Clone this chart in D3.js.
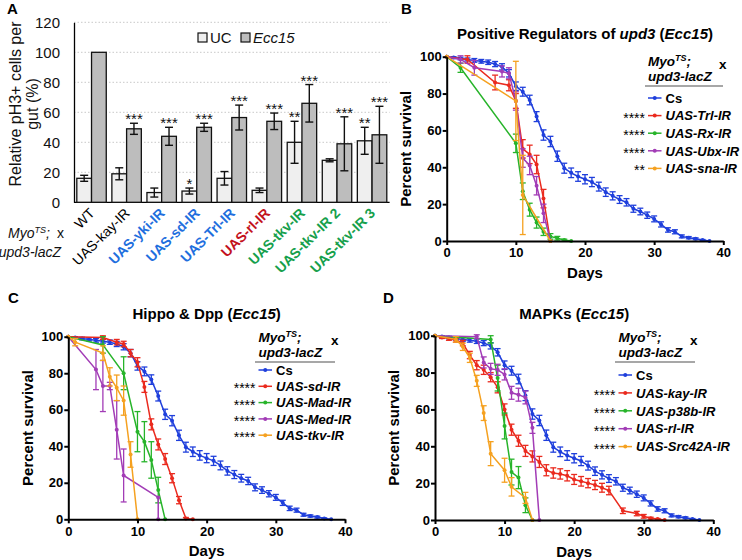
<!DOCTYPE html>
<html><head><meta charset="utf-8">
<script src="https://cdn.jsdelivr.net/npm/d3@7"></script>
<style>body{margin:0;background:#fff}svg{display:block}</style>
</head><body>
<svg id="chart" width="742" height="560"></svg>
<script>
// ================= DATA =================
// Panel A
const groupsA   = ["WT","UAS-kay-IR","UAS-yki-IR","UAS-sd-IR","UAS-Trl-IR","UAS-rl-IR","UAS-tkv-IR","UAS-tkv-IR 2","UAS-tkv-IR 3"];
const seriesA   = ["UC","Ecc15"];
const ucValues  = [16, 19, 6.5, 7.5, 16, 8, 40, 28, 41];
const ucErrors  = [2, 4, 3, 2, 4.5, 1.5, 14, 1, 9];
const eccValues = [100, 49, 44, 50, 56.5, 54, 66, 39, 45];
const eccErrors = [0, 3.7, 6, 2.7, 8.3, 5.5, 12.5, 18, 19];
const ucStars   = ["", "", "", "*", "", "", "**", "", "**"];
const eccStars  = ["", "***", "***", "***", "***", "***", "***", "***", "***"];
const yTicksA   = [0, 20, 40, 60, 80, 100, 120];

// Survival panels (shared ticks)
const dayTicks     = [0, 10, 20, 30, 40];
const percentTicks = [0, 20, 40, 60, 80, 100];

// Control Cs (same curve in B, C, D)
const csDays   = [0,1,2,3,4,5,6,7,8,9,10,11,12,13,14,15,16,17,18,19,20,21,22,23,24,25,26,27,28,29,30,31,32,33,34,35,36,37,38];
const csValues = [100,99.5,99,98.5,98,97.5,97,96,94.5,91,84,81,76.5,67.5,57.5,54,46,39.5,37,35,33.5,32,29.5,26.5,24.5,22.5,21,17.5,16,14,12,9,6,5,2.5,1.8,1.2,0.5,0];
const csErrors = [0,0.5,0.7,0.8,1,1,1.2,1.4,1.7,2,2.3,2.4,2.6,2.7,2.8,2.8,2.8,2.7,2.6,2.6,2.5,2.5,2.4,2.3,2.2,2.1,2,1.9,1.8,1.7,1.6,1.4,1.2,1.1,0.8,0.6,0.5,0.3,0];

// Panel B
const trlDays = [0,3,7,9,10,11,12,13,14,15];
const trlValues = [100,98.5,86,84.5,76,50,47,41.5,23,0];
const trlErrors = [0,2,4,3,4,5,5,5,5,0];
const rxDays = [0,2,10,11,12,13,14,15,16,17,18];
const rxValues = [100,94,53,27,17,10,5,2.5,1.5,0.5,0];
const rxErrors = [0,2.5,5,4.5,3.5,3,2,1.5,1,0.5,0];
const ubxDays = [0,2,4,8,9,10,11,12,13,14,15];
const ubxValues = [100,98.5,94,92,91,76,45,41,30,15,0];
const ubxErrors = [0,2,4,3,3,5,5,5,5,5,0];
const snaDays = [0,10,11,15];
const snaValues = [100,76,25,0];
const snaErrors = [0,21.5,21.5,0];
const labelsB = ["Cs","UAS-Trl-IR","UAS-Rx-IR","UAS-Ubx-IR","UAS-sna-IR"];
const starsB  = ["","****","****","****","**"];

// Panel C
const sdDays = [0,5,7,8,9,10,11,12,13,14,15,16,17,18];
const sdValues = [100,99.5,97,96,91,86,72.5,52,41,33,22.5,10.5,0.5,0];
const sdErrors = [0,1,1.5,1.5,2,2.5,3,3,3,3,2.5,2,0.5,0];
const madDays = [0,5,8,10,11,12,13,14];
const madValues = [100,95.5,80,48,42.5,32.5,16,0];
const madErrors = [0,4.5,9,11,11,10,7,0];
const medDays = [0,4,5,6,7,8,13,13];
const medValues = [100,82,73,73,49,24,12,0];
const medErrors = [0,11,14,2,16,14.5,0,0];
const tkvDays = [0,1,5,6,7,8,9,10];
const tkvValues = [100,97,91,78,72,65,35.5,0];
const tkvErrors = [0,2,4,5,7,8,7,0];
const labelsC = ["Cs","UAS-sd-IR","UAS-Mad-IR","UAS-Med-IR","UAS-tkv-IR"];
const starsC  = ["","****","****","****","****"];

// Panel D
const kayDays = [0,1,2,3,4,5,6,7,8,9,10,11,12,13,14,15,16,17,18,19,20,21,22,23,24,25,27,29,30,31,32,33];
const kayValues = [100,99,98.5,97.5,96,89.5,84,81.5,77.5,72,60,49,43,37.5,34.5,31.5,27,25.5,25,24,22,21,20,19,17.5,16,5,3.5,2,1,0.5,0];
const kayErrors = [0,0.5,1,1,1.5,2,2.5,2.5,2.5,3,3,3,3,3,3,3,3,2.8,2.8,2.8,2.7,2.6,2.5,2.5,2.4,2.3,1.5,1.2,1,0.5,0.3,0];
const p38bDays = [0,8,9,10,11,12,13,14];
const p38bValues = [100,98,77,51,26,23,8,0];
const p38bErrors = [0,2,7,7,7,6,4,0];
const rlDays = [0,6,7,8,9,10,11,12,13,14,15];
const rlValues = [100,99.5,85.5,82,81.5,79,69,68,66.5,50,0];
const rlErrors = [0,1,3,3,3,3,3.5,3.5,3.5,3,0];
const srcDays = [0,3,4,5,6,7,8,10,11,13,14];
const srcValues = [100,98,94,88,75.5,58,36,27,18,12,0];
const srcErrors = [0,1.5,2,2.5,3,4,6.5,6.5,5,3,0];
const labelsD = ["Cs","UAS-kay-IR","UAS-p38b-IR","UAS-rl-IR","UAS-Src42A-IR"];
const starsD  = ["","****","****","****","****"];

// ================= STYLE =================
const FONT = "'Liberation Sans', Arial, Helvetica, sans-serif";
const C_BLUE = "#1f3fdc", C_RED = "#ea2a1e", C_GREEN = "#27b42a", C_PURPLE = "#a23cb6", C_ORANGE = "#f5a120";
const labelColorA = {"WT":"#000","UAS-kay-IR":"#000","UAS-yki-IR":"#1f6fde","UAS-sd-IR":"#1f6fde","UAS-Trl-IR":"#1f6fde",
  "UAS-rl-IR":"#c3121d","UAS-tkv-IR":"#16a04c","UAS-tkv-IR 2":"#16a04c","UAS-tkv-IR 3":"#16a04c"};
const fillA = {"UC":"#efefef","Ecc15":"#bdbdbd"};

const svg = d3.select("#chart").style("font-family", FONT);

// ================= PANEL A =================
(function(){
  const g = svg.append("g");
  const yA = d3.scaleLinear().domain([0,120]).range([202.3, 22.3]);
  const xA = d3.scaleBand().domain(groupsA).range([74, 389.6]).paddingInner(0.16).paddingOuter(0.08);
  const xA1 = d3.scaleBand().domain(seriesA).range([0, xA.bandwidth()]);
  const xEnd = 389.6;

  g.selectAll(".grid").data(yTicksA.filter(t=>t>0)).join("line")
    .attr("x1",74).attr("x2",xEnd).attr("y1",d=>yA(d)).attr("y2",d=>yA(d))
    .attr("stroke","#c8c8c8").attr("stroke-width",1).attr("stroke-dasharray","1.5,2");

  const ax = g.append("g").attr("transform","translate(74,0)")
    .call(d3.axisLeft(yA).tickValues(yTicksA).tickSize(0).tickSizeOuter(0).tickPadding(14));
  ax.select(".domain").attr("stroke","#000").attr("stroke-width",1.3);
  ax.selectAll("text").attr("font-size",15).attr("font-family",FONT).attr("fill","#111");

  g.append("line").attr("x1",74).attr("x2",xEnd).attr("y1",yA(0)).attr("y2",yA(0))
    .attr("stroke","#000").attr("stroke-width",1.3);

  const bars = [];
  groupsA.forEach((grp,i)=>{
    bars.push({g:grp, s:"UC", v:ucValues[i], e:ucErrors[i], star:ucStars[i]});
    bars.push({g:grp, s:"Ecc15", v:eccValues[i], e:eccErrors[i], star:eccStars[i]});
  });
  const bx = d=>xA(d.g)+xA1(d.s);
  const bw = xA1.bandwidth();
  g.selectAll(".bar").data(bars).join("rect")
    .attr("x",bx).attr("width",bw).attr("y",d=>yA(d.v)).attr("height",d=>yA(0)-yA(d.v))
    .attr("fill",d=>fillA[d.s]).attr("stroke","#111").attr("stroke-width",1.3);
  const eb = bars.filter(d=>d.e>0);
  const ebg = g.append("g").attr("stroke","#111").attr("stroke-width",1.4);
  eb.forEach(d=>{
    const cx = bx(d)+bw/2;
    ebg.append("line").attr("x1",cx).attr("x2",cx).attr("y1",yA(d.v-d.e)).attr("y2",yA(d.v+d.e));
    ebg.append("line").attr("x1",cx-4).attr("x2",cx+4).attr("y1",yA(d.v-d.e)).attr("y2",yA(d.v-d.e));
    ebg.append("line").attr("x1",cx-4).attr("x2",cx+4).attr("y1",yA(d.v+d.e)).attr("y2",yA(d.v+d.e));
  });
  g.selectAll(".star").data(bars.filter(d=>d.star)).join("text")
    .attr("x",d=>bx(d)+bw/2).attr("y",d=>yA(d.v+d.e)+1)
    .attr("text-anchor","middle").attr("font-size",15).attr("fill","#111").text(d=>d.star);

  // legend
  const lg = g.append("g");
  [["UC",198],["Ecc15",241]].forEach(([s,x])=>{
    lg.append("rect").attr("x",x).attr("y",33).attr("width",9).attr("height",9)
      .attr("fill",fillA[s]).attr("stroke","#111").attr("stroke-width",1.2);
    lg.append("text").attr("x",x+12).attr("y",42.7).attr("font-size",15)
      .attr("font-style",s==="UC"?"normal":"italic").attr("fill","#111").text(s);
  });

  // y title
  const yt = g.append("text").attr("transform","translate(15,104) rotate(-90)")
    .attr("text-anchor","middle").attr("font-size",16).attr("fill","#111");
  yt.append("tspan").attr("x",0).attr("dy","0.35em").text("Relative pH3+ cells per");
  yt.append("tspan").attr("x",0).attr("dy","1.1em").text("gut (%)");

  // x labels
  g.selectAll(".xl").data(groupsA).join("text")
    .attr("transform",d=>`translate(${xA(d)+xA.bandwidth()/2+4},214) rotate(-45)`)
    .attr("text-anchor","end").attr("font-size",14)
    .attr("font-weight",d=>labelColorA[d]==="#000"?"normal":"bold")
    .attr("fill",d=>labelColorA[d]).text(d=>d);

  // genotype prefix
  const m = g.append("text").attr("x",8).attr("y",238).attr("font-size",14).attr("font-style","italic").attr("fill","#111");
  m.append("tspan").text("Myo");
  m.append("tspan").attr("font-size",9).attr("dy",-5).text("TS");
  m.append("tspan").attr("dy",5).text(";");
  g.append("text").attr("x",57).attr("y",238).attr("font-size",14).attr("fill","#111").text("x");
  g.append("text").attr("x",61).attr("y",257).attr("text-anchor","end").attr("font-size",14)
    .attr("font-style","italic").attr("fill","#111").text("upd3-lacZ");

  svg.append("text").attr("x",7).attr("y",14).attr("font-size",15).attr("font-weight","bold").text("A");
})();

// ================= SURVIVAL PANELS =================
function survivalPanel(cfg){
  const g = svg.append("g");
  const x = d3.scaleLinear().domain([0,40]).range(cfg.xRange);
  const y = d3.scaleLinear().domain([0,100]).range(cfg.yRange);
  const x0 = x(0), y0 = y(0);

  // series
  cfg.series.forEach(s=>{
    const pts = s.days.map((d,i)=>({day:d, v:s.values[i], e:s.errors[i]}));
    g.append("path").datum(pts).attr("d",d3.line().x(d=>x(d.day)).y(d=>y(d.v)))
      .attr("fill","none").attr("stroke",s.color).attr("stroke-width",1.5);
    const eg = g.append("g").attr("stroke",s.color).attr("stroke-width",1.3);
    pts.filter(p=>p.e>0).forEach(p=>{
      const cx = x(p.day), ya = y(p.v-p.e), yb = y(p.v+p.e);
      eg.append("line").attr("x1",cx).attr("x2",cx).attr("y1",ya).attr("y2",yb);
      eg.append("line").attr("x1",cx-3).attr("x2",cx+3).attr("y1",ya).attr("y2",ya);
      eg.append("line").attr("x1",cx-3).attr("x2",cx+3).attr("y1",yb).attr("y2",yb);
    });
    g.append("g").selectAll("circle").data(pts).join("circle")
      .attr("cx",d=>x(d.day)).attr("cy",d=>y(d.v)).attr("r",2).attr("fill",s.color);
  });

  // axes
  const xa = g.append("g").attr("transform",`translate(0,${y0})`)
    .call(d3.axisBottom(x).tickValues(dayTicks).tickSize(4).tickSizeOuter(0).tickPadding(3));
  const ya = g.append("g").attr("transform",`translate(${x0},0)`)
    .call(d3.axisLeft(y).tickValues(percentTicks).tickSize(4).tickSizeOuter(0).tickPadding(1));
  [xa,ya].forEach(a=>{
    a.select(".domain").attr("stroke","#000").attr("stroke-width",2);
    a.selectAll(".tick line").attr("stroke","#000").attr("stroke-width",2);
    a.selectAll("text").attr("font-size",13).attr("font-weight","bold").attr("font-family",FONT).attr("fill","#000");
  });

  const xc = (cfg.xRange[0]+cfg.xRange[1])/2, yc = (cfg.yRange[0]+cfg.yRange[1])/2;
  g.append("text").attr("x",xc).attr("y",y0+36.5).attr("text-anchor","middle")
    .attr("font-size",15).attr("font-weight","bold").text("Days");
  g.append("text").attr("transform",`translate(${x0-41},${yc}) rotate(-90)`).attr("dy","0.35em")
    .attr("text-anchor","middle").attr("font-size",15).attr("font-weight","bold").text("Percent survival");

  // title
  const t = g.append("text").attr("x",xc).attr("y",cfg.titleY).attr("text-anchor","middle")
    .attr("font-size",15).attr("font-weight","bold");
  cfg.title.forEach(([s,it])=>t.append("tspan").attr("font-style",it?"italic":"normal").text(s));

  // panel letter
  svg.append("text").attr("x",cfg.letterX).attr("y",cfg.letterY).attr("font-size",15)
    .attr("font-weight","bold").text(cfg.letter);

  // legend
  const L = cfg.legend;
  const m = g.append("text").attr("x",L.x).attr("y",L.myoY).attr("font-size",13.5)
    .attr("font-weight","bold").attr("font-style","italic");
  m.append("tspan").text("Myo");
  m.append("tspan").attr("font-size",9).attr("dy",-5).text("TS");
  m.append("tspan").attr("dy",5).text(";");
  g.append("text").attr("x",L.xMarkX).attr("y",L.myoY+3).attr("font-size",13.5).attr("font-weight","bold").text("x");
  g.append("text").attr("x",L.x).attr("y",L.myoY+15).attr("font-size",13.5)
    .attr("font-weight","bold").attr("font-style","italic").text("upd3-lacZ");
  g.append("line").attr("x1",L.ulX1).attr("x2",L.ulX2).attr("y1",L.myoY+20).attr("y2",L.myoY+20)
    .attr("stroke","#8a8a8a").attr("stroke-width",1.4);
  cfg.series.forEach((s,i)=>{
    const cy = L.y0 + i*L.step;
    g.append("line").attr("x1",L.x).attr("x2",L.x+13.5).attr("y1",cy).attr("y2",cy)
      .attr("stroke",s.color).attr("stroke-width",1.5);
    g.append("circle").attr("cx",L.x+6.75).attr("cy",cy).attr("r",2).attr("fill",s.color);
    g.append("text").attr("x",L.x+17.5).attr("y",cy+4.7).attr("font-size",13)
      .attr("font-weight","bold").attr("font-style",i===0?"normal":"italic").text(cfg.labels[i]);
    if (cfg.stars[i]) g.append("text").attr("x",L.x-3).attr("y",cy+7).attr("text-anchor","end")
      .attr("font-size",14).text(cfg.stars[i]);
  });
}

survivalPanel({
  letter:"B", letterX:401, letterY:14,
  xRange:[446.7,723.3], yRange:[241,56.7], titleY:39,
  title:[["Positive Regulators of ",false],["upd3",true],[" (",false],["Ecc15",true],[")",false]],
  series:[
    {days:csDays, values:csValues, errors:csErrors, color:C_BLUE},
    {days:trlDays, values:trlValues, errors:trlErrors, color:C_RED},
    {days:rxDays, values:rxValues, errors:rxErrors, color:C_GREEN},
    {days:ubxDays, values:ubxValues, errors:ubxErrors, color:C_PURPLE},
    {days:snaDays, values:snaValues, errors:snaErrors, color:C_ORANGE}],
  labels:labelsB, stars:starsB,
  legend:{x:648, myoY:66, xMarkX:719, ulX1:645, ulX2:723, y0:98, step:17.6}
});

survivalPanel({
  letter:"C", letterX:8, letterY:303,
  xRange:[68.3,345], yRange:[519.3,336.7], titleY:318.5,
  title:[["Hippo & Dpp (",false],["Ecc15",true],[")",false]],
  series:[
    {days:csDays, values:csValues, errors:csErrors, color:C_BLUE},
    {days:sdDays, values:sdValues, errors:sdErrors, color:C_RED},
    {days:madDays, values:madValues, errors:madErrors, color:C_GREEN},
    {days:medDays, values:medValues, errors:medErrors, color:C_PURPLE},
    {days:tkvDays, values:tkvValues, errors:tkvErrors, color:C_ORANGE}],
  labels:labelsC, stars:starsC,
  legend:{x:258.5, myoY:342, xMarkX:331, ulX1:255, ulX2:335, y0:370, step:16.3}
});

survivalPanel({
  letter:"D", letterX:383, letterY:303,
  xRange:[435,713.3], yRange:[520,335.7], titleY:318.5,
  title:[["MAPKs (",false],["Ecc15",true],[")",false]],
  series:[
    {days:csDays, values:csValues, errors:csErrors, color:C_BLUE},
    {days:kayDays, values:kayValues, errors:kayErrors, color:C_RED},
    {days:p38bDays, values:p38bValues, errors:p38bErrors, color:C_GREEN},
    {days:rlDays, values:rlValues, errors:rlErrors, color:C_PURPLE},
    {days:srcDays, values:srcValues, errors:srcErrors, color:C_ORANGE}],
  labels:labelsD, stars:starsD,
  legend:{x:618.5, myoY:342, xMarkX:690, ulX1:615, ulX2:695, y0:375, step:17.9}
});
</script></body></html>
